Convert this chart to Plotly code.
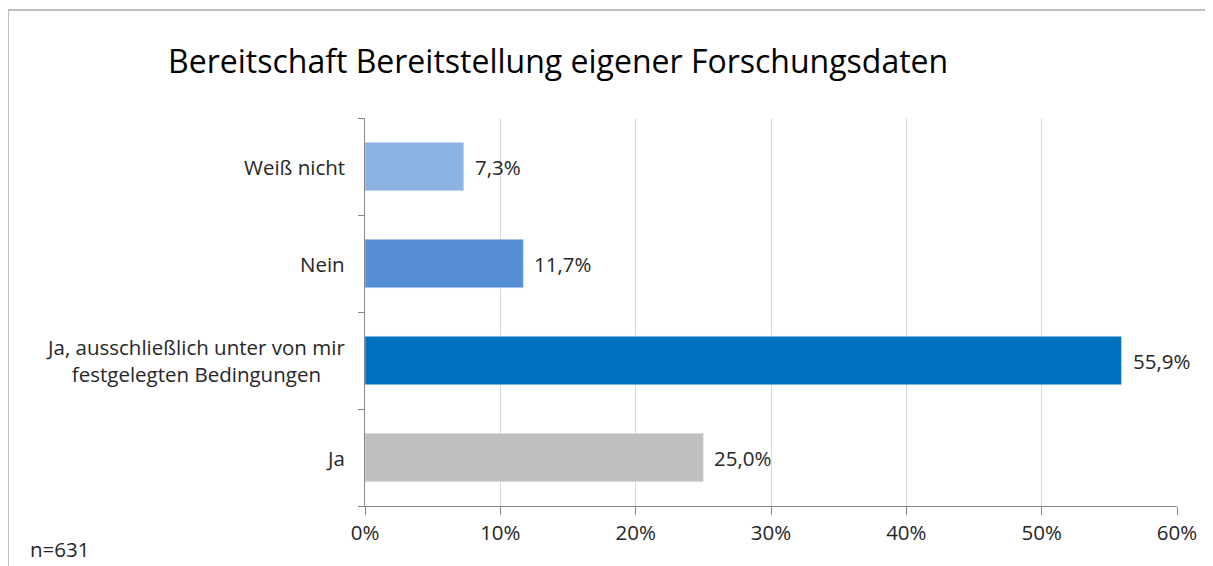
import plotly.graph_objects as go

categories = ["Ja", "Ja, ausschließlich unter von mir<br>festgelegten Bedingungen", "Nein", "Weiß nicht"]
values = [25.0, 55.9, 11.7, 7.3]
colors = ["#BFBFBF", "#0070C0", "#558ED5", "#8DB3E2"]
x_ticks = [0, 10, 20, 30, 40, 50, 60]
x_tick_labels = ["0%", "10%", "20%", "30%", "40%", "50%", "60%"]

font = "Open Sans, sans-serif"
text_color = "#262626"
fs = 20.5
labels = [f"{v:.1f}%".replace(".", ",") for v in values]

# page has an 8px body margin, so the figure is 8px smaller than the window
W, H = 1205, 558
ml, mr, mt, mb = 357, 36, 110, 60
pw, ph = W - ml - mr, H - mt - mb

fig = go.Figure(
    go.Bar(
        x=values,
        y=categories,
        orientation="h",
        marker_color=colors,
        width=0.5,
        hoverinfo="skip",
    )
)

# value labels next to the bars
for c, v, t in zip(categories, values, labels):
    fig.add_annotation(
        x=v, y=c, xref="x", yref="y", text=t, showarrow=False,
        xanchor="left", xshift=9,
        font=dict(family=font, size=fs, color=text_color),
    )

# y labels as annotations so that the two-line label is centred like the original
for c in categories:
    fig.add_annotation(
        x=0, xref="paper", y=c, yref="y",
        text=c, showarrow=False, xanchor="right", align="center",
        xshift=-18, font=dict(family=font, size=fs, color=text_color),
    )

fig.add_annotation(
    x=(20 - ml) / pw, y=(ph + mt - 541) / ph, xref="paper", yref="paper",
    text="n=631", showarrow=False, xanchor="left", yanchor="middle",
    font=dict(family=font, size=fs, color=text_color),
)

fig.update_layout(
    width=W,
    height=H,
    margin=dict(l=ml, r=mr, t=mt, b=mb),
    plot_bgcolor="white",
    paper_bgcolor="white",
    showlegend=False,
    title=dict(
        text="Bereitschaft Bereitstellung eigener Forschungsdaten",
        x=160 / W, xanchor="left", xref="container",
        y=1 - 54 / H, yanchor="middle", yref="container",
        font=dict(family=font, size=32, color="#000000"),
    ),
    shapes=[
        dict(type="rect", xref="paper", yref="paper",
             x0=(0 - ml) / pw, x1=1.2, y0=-0.3, y1=(ph + mt - 2) / ph,
             line=dict(color="#BFBFBF", width=2), layer="below"),
    ],
)

fig.update_xaxes(
    range=[0, 60],
    tickvals=x_ticks,
    ticktext=x_tick_labels,
    showgrid=True,
    gridcolor="#D9D9D9",
    gridwidth=1,
    showline=True,
    linecolor="#868686",
    linewidth=1,
    ticks="outside",
    ticklen=8,
    tickcolor="#868686",
    tickfont=dict(family=font, size=fs, color=text_color),
    zeroline=False,
    fixedrange=True,
)
fig.update_yaxes(
    categoryorder="array",
    categoryarray=categories,
    showticklabels=False,
    showline=True,
    linecolor="#868686",
    linewidth=1,
    ticks="outside",
    tickson="boundaries",
    ticklen=6,
    tickcolor="#868686",
    showgrid=False,
    fixedrange=True,
)

fig.write_html("out.html")
